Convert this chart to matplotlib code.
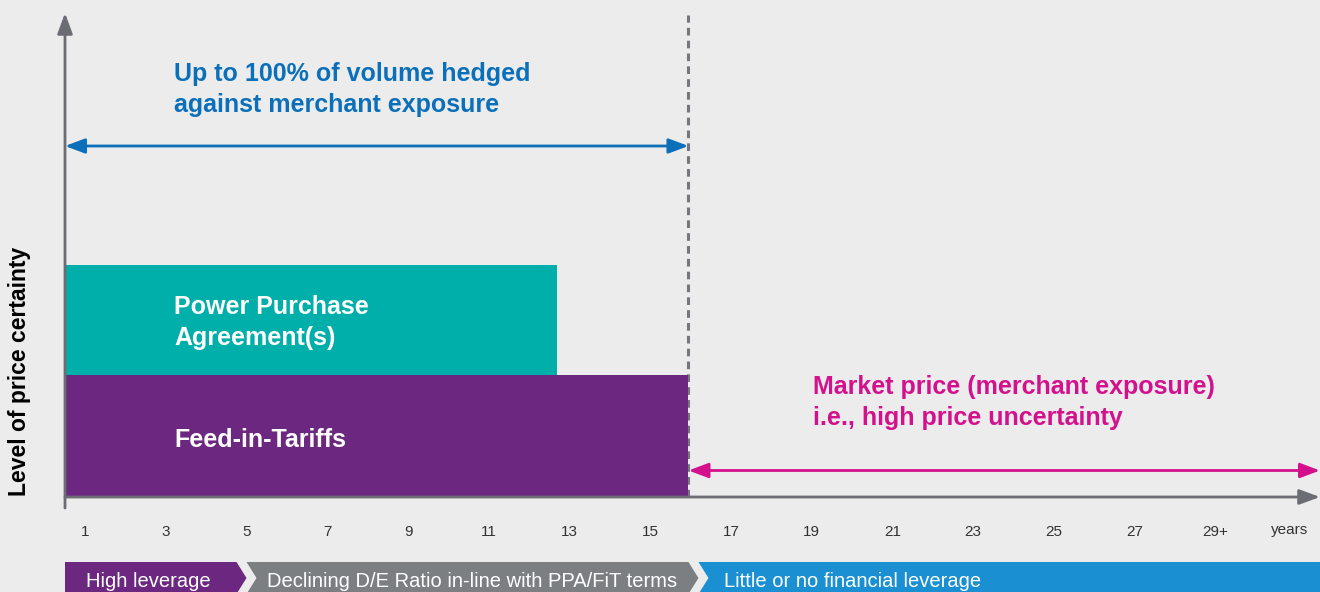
import matplotlib.pyplot as plt
from matplotlib.patches import Polygon

# contract horizon (years) on x, stacked revenue support on y
years = list(range(1, 30, 2))
year_labels = [str(y) for y in years[:-1]] + ['29+']
segments = ['Feed-in-Tariffs', 'Power Purchase\nAgreement(s)']
seg_end = [15.95, 12.7]
seg_height = [1.22, 1.10]
seg_colors = ['#6c2780', '#00afa9']

phases = ['High leverage', 'Declining D/E Ratio in-line with PPA/FiT terms',
          'Little or no financial leverage']
phase_end = [4.75, 15.95, 31.6]
phase_colors = ['#6c2780', '#7b7f82', '#1a90d2']

BG = '#ececec'
AXIS = '#6b6c74'
BLUE = '#0b6fba'
MAGENTA = '#d4118d'
plt.rcParams['font.family'] = ['Liberation Sans', 'DejaVu Sans']

fig = plt.figure(figsize=(13.2, 5.92), dpi=100, facecolor=BG)
ax = fig.add_axes([65 / 1320, 95 / 592, 1255 / 1320, 482 / 592])
ax.set_facecolor(BG)
ax.set_xlim(0.5, 31.6)
ax.set_ylim(0, 4.82)
for s in ax.spines.values():
    s.set_visible(False)

# stacked bars
bottom = 0
for name, end, h, c in zip(segments, seg_end, seg_height, seg_colors):
    ax.bar(0.5, h, width=end - 0.5, bottom=bottom, align='edge', color=c, zorder=2)
    ax.text(3.2, bottom + h / 2 + (-0.025 if '\n' in name else -0.04), name, color='white',
            fontsize=18, fontweight='bold', va='center', ha='left', linespacing=1.36, zorder=3)
    bottom += h

# axes arrows
arr = dict(arrowstyle='-|>,head_length=1.25,head_width=0.46', mutation_scale=10,
           color=AXIS, lw=2, shrinkA=0, shrinkB=0)
ax.annotate('', xy=(0.5, 4.84), xytext=(0.5, -0.11), arrowprops=arr, annotation_clip=False, zorder=4)
ax.annotate('', xy=(31.6, 0), xytext=(0.5, 0), arrowprops=arr, annotation_clip=False, zorder=4)

# end of support term
ax.plot([seg_end[0], seg_end[0]], [0, 4.82], color='#75767e', lw=2.2,
        ls=(0, (2.5, 1.7)), zorder=1)

# hedged / merchant arrows
ax.annotate('', xy=(seg_end[0], 3.51), xytext=(0.5, 3.51),
            arrowprops=dict(arrowstyle='<|-|>,head_length=1.2,head_width=0.45', mutation_scale=10,
                            color=BLUE, lw=2, shrinkA=0, shrinkB=0), annotation_clip=False)
ax.annotate('', xy=(31.6, 0.265), xytext=(seg_end[0], 0.265),
            arrowprops=dict(arrowstyle='<|-|>,head_length=1.2,head_width=0.45', mutation_scale=10,
                            color=MAGENTA, lw=2, shrinkA=0, shrinkB=0), annotation_clip=False)

ax.text(3.2, 4.075, 'Up to 100% of volume hedged\nagainst merchant exposure', color=BLUE,
        fontsize=18, fontweight='bold', va='center', ha='left', linespacing=1.36)
ax.text(19.03, 0.945, 'Market price (merchant exposure)\ni.e., high price uncertainty', color=MAGENTA,
        fontsize=18, fontweight='bold', va='center', ha='left', linespacing=1.36)

ax.set_xticks(years)
ax.set_xticklabels(year_labels)
ax.set_yticks([])
ax.tick_params(axis='x', length=0, pad=20, labelsize=11, labelcolor='#333333')
ax.text(30.85, -0.33, 'years', fontsize=11, color='#333333', ha='center', va='center')

fig.text(20 / 1320, 1 - 371 / 592, 'Level of price certainty', rotation=90, fontsize=16.5,
         fontweight='bold', ha='center', va='center')

# leverage phases band (x shares the year scale, y in pixels)
bx = fig.add_axes([65 / 1320, 0, 1255 / 1320, 30 / 592])
bx.set_xlim(0.5, 31.6)
bx.set_ylim(0, 30)
bx.axis('off')
px = 1 / 40.36
text_off = [21, 21, 26]
start = 0.5
for i, (name, end, c) in enumerate(zip(phases, phase_end, phase_colors)):
    notch = 0 if i == 0 else 10 * px
    tip = 0 if i == len(phases) - 1 else 10 * px
    right = end
    pts = [(start, 30), (right, 30), (right + tip, 14), (right, -2), (start, -2), (start + notch, 14)]
    bx.add_patch(Polygon(pts, closed=True, color=c, lw=0, clip_on=False))
    bx.text(start + text_off[i] * px, 10.5, name, color='white', fontsize=14.5,
            va='center', ha='left')
    start = right + tip

fig.savefig('out.png', dpi=100, facecolor=BG)
